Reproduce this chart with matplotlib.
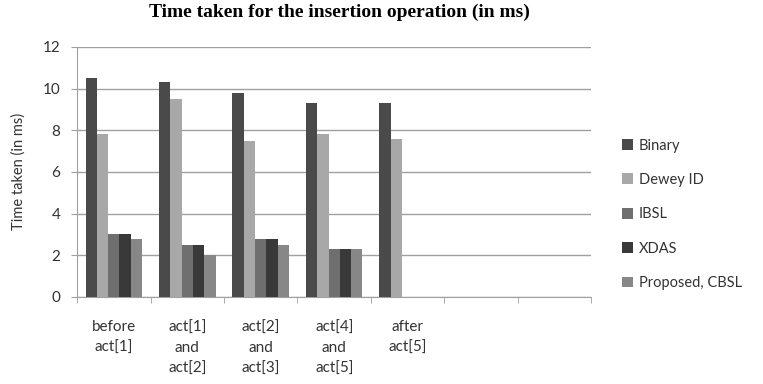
import numpy as np
import matplotlib.pyplot as plt

categories = ['before\nact[1]', 'act[1]\nand\nact[2]', 'act[2]\nand\nact[3]',
              'act[4]\nand\nact[5]', 'after\nact[5]', '', '']
series = ['Binary', 'Dewey ID', 'IBSL', 'XDAS', 'Proposed, CBSL']
binary = [10.5, 10.3, 9.8, 9.3, 9.3]
dewey = [7.8, 9.5, 7.5, 7.8, 7.6]
ibsl = [3.0, 2.5, 2.8, 2.3]
xdas = [3.0, 2.5, 2.8, 2.3]
cbsl = [2.8, 2.0, 2.5, 2.3]

colors = ['#4a4a4a', '#a8a8a8', '#6f6f6f', '#393939', '#878787']
values = [binary, dewey, ibsl, xdas, cbsl]

plt.rcParams['font.family'] = ['Lato', 'DejaVu Sans']

fig = plt.figure(figsize=(7.63, 3.84), dpi=100)
ax = fig.add_axes([0.101, 0.227, 0.674, 0.651])

w = 1 / 6.5
for i, (name, vals, c) in enumerate(zip(series, values, colors)):
    x = np.arange(len(vals)) + (i - 2) * w
    ax.bar(x, vals, width=w, color=c, label=name, zorder=3)

ax.set_xlim(-0.5, len(categories) - 0.5)
ax.set_ylim(0, 12)
ax.set_yticks(range(0, 13, 2))
ax.yaxis.grid(True, color='#a0a0a0', linewidth=1, zorder=0)

ax.set_xticks(range(len(categories)))
ax.set_xticklabels(categories, linespacing=1.6, va='top')
ax.set_xticks(np.arange(-0.5, len(categories) + 0.5, 1), minor=True)
ax.tick_params(axis='x', which='major', length=0, pad=17, labelsize=11, labelcolor='#333333')
ax.tick_params(axis='x', which='minor', length=4, color='#a0a0a0', direction='out')
ax.tick_params(axis='y', length=4, pad=8, color='#a0a0a0', labelsize=11, labelcolor='#333333')

for s in ['top', 'right']:
    ax.spines[s].set_visible(False)
for s in ['left', 'bottom']:
    ax.spines[s].set_color('#a0a0a0')

ax.set_ylabel('Time taken (in ms)', fontsize=10.5, color='#333333', labelpad=12)

fig.suptitle('Time taken for the insertion operation (in ms)', x=0.445, y=0.99,
             fontsize=14, fontweight='bold', family='Liberation Serif')

ax.legend(loc='center left', bbox_to_anchor=(1.034, 0.33), frameon=False,
          fontsize=10.5, labelspacing=1.4, handlelength=0.75, handleheight=0.75,
          handletextpad=0.4, labelcolor='#333333')

fig.savefig('out.png', dpi=100)
